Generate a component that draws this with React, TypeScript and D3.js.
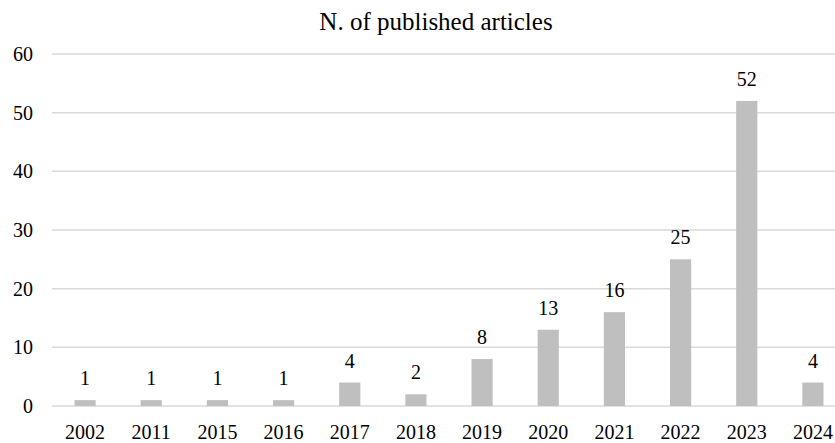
import React from "react";
import * as d3 from "d3";

const years = ["2002", "2011", "2015", "2016", "2017", "2018", "2019", "2020", "2021", "2022", "2023", "2024"];
const articles = [1, 1, 1, 1, 4, 2, 8, 13, 16, 25, 52, 4];
const yTicks = [0, 10, 20, 30, 40, 50, 60];
const title = "N. of published articles";

const font = "Liberation Serif, Tinos, Times New Roman, DejaVu Serif, serif";

export default function App() {
  const width = 835;
  const height = 443;
  const x = d3.scaleBand<string>().domain(years).range([52, 846]).paddingInner(0.68).paddingOuter(0.34);
  const y = d3.scaleLinear().domain([0, 60]).range([406, 54]);
  const ts = { fontFamily: font };
  return (
    <svg width={width} height={height} style={{ position: "absolute", left: 0, top: 0, background: "#fff", fontFamily: font }}>
      <rect x={0} y={0} width={width} height={height} fill="#fff" />
      <text x={436} y={30} textAnchor="middle" fontSize={25} fill="#000" style={ts}>{title}</text>
      {yTicks.map((t) => (
        <g key={t}>
          <line x1={52} x2={width} y1={y(t)} y2={y(t)} stroke="#D9D9D9" strokeWidth={1.5} />
          <text x={33} y={y(t)} dy="0.35em" textAnchor="end" fontSize={20} fill="#000" style={ts}>{t}</text>
        </g>
      ))}
      {years.map((yr, i) => (
        <g key={yr}>
          <rect x={x(yr)} y={y(articles[i])} width={x.bandwidth()} height={y(0) - y(articles[i])} fill="#BFBFBF" />
          <text x={(x(yr) as number) + x.bandwidth() / 2} y={y(articles[i]) - 15} textAnchor="middle" fontSize={20} fill="#000" style={ts}>{articles[i]}</text>
          <text x={(x(yr) as number) + x.bandwidth() / 2} y={439} textAnchor="middle" fontSize={20} fill="#000" style={ts}>{yr}</text>
        </g>
      ))}
    </svg>
  );
}
